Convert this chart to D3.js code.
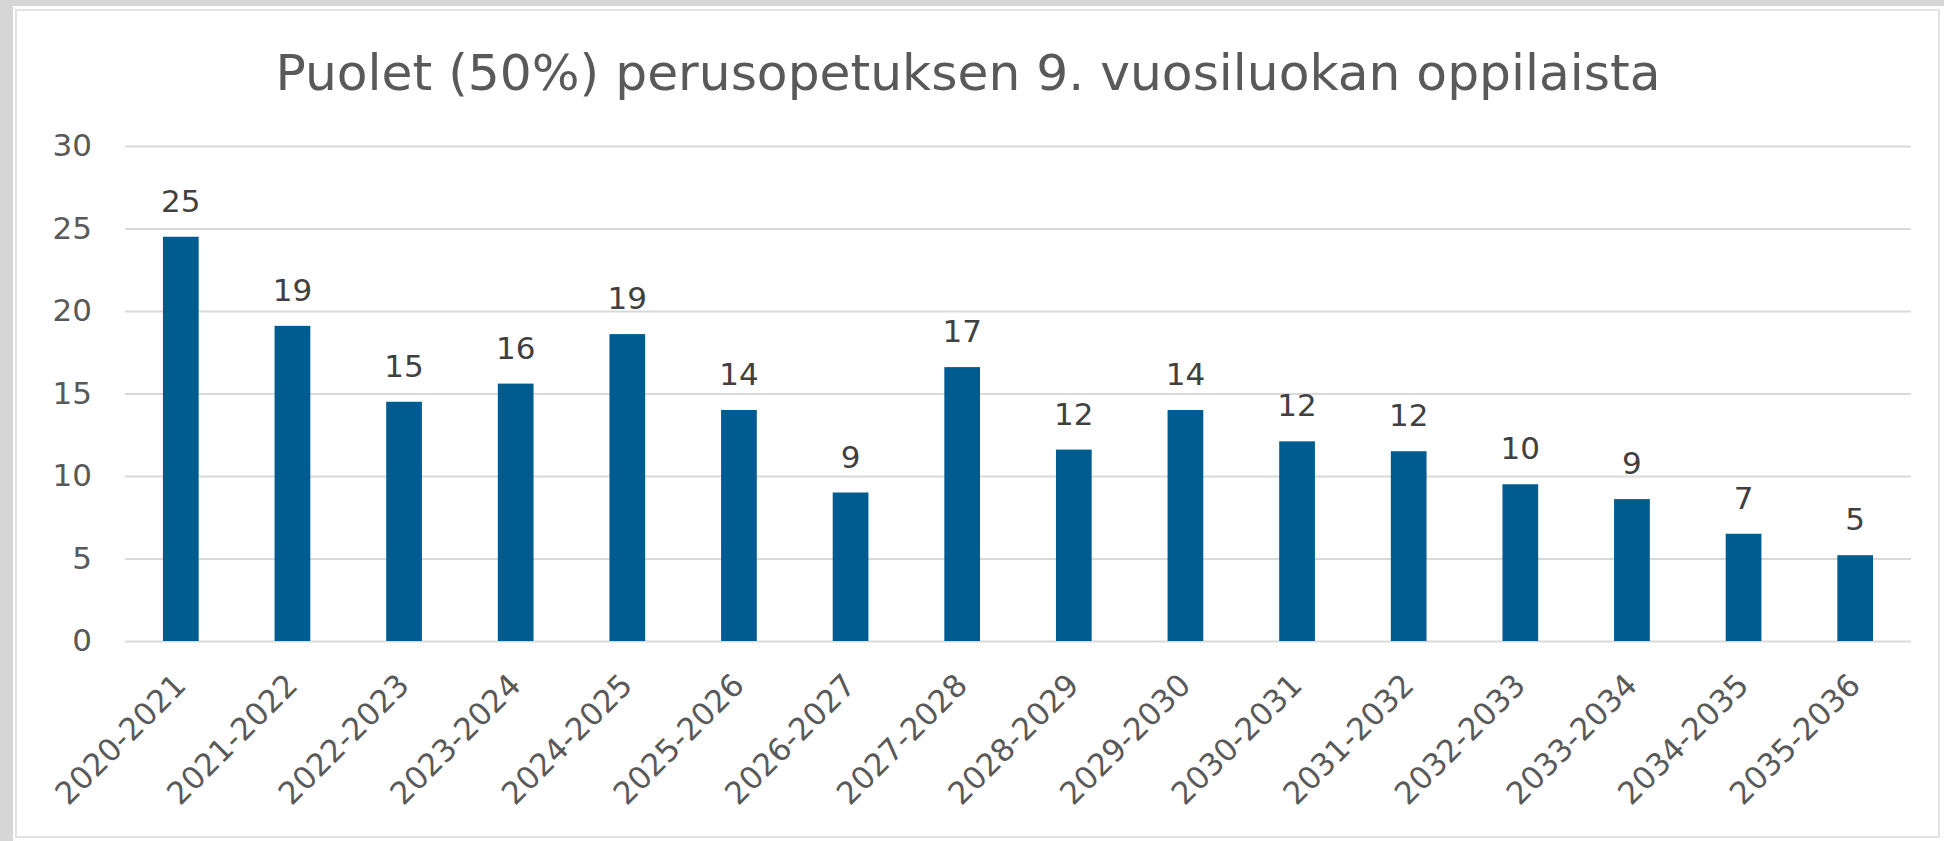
<!DOCTYPE html>
<html>
<head>
<meta charset="utf-8">
<script src="https://cdn.jsdelivr.net/npm/d3@7"></script>
<style>
  body { margin: 0; background: #fff; }
  svg { display: block; font-family: "DejaVu Sans", Verdana, sans-serif; }
</style>
</head>
<body>
<div id="chart"></div>
<script>
'use strict';

var title = 'Puolet (50%) perusopetuksen 9. vuosiluokan oppilaista';
var categories = ['2020-2021', '2021-2022', '2022-2023', '2023-2024', '2024-2025', '2025-2026',
  '2026-2027', '2027-2028', '2028-2029', '2029-2030', '2030-2031', '2031-2032',
  '2032-2033', '2033-2034', '2034-2035', '2035-2036'];
var values = [24.5, 19.1, 14.5, 15.6, 18.6, 14.0, 9.0, 16.6, 11.6, 14.0, 12.1, 11.5, 9.5, 8.6, 6.5, 5.2];
var yTicks = [0, 5, 10, 15, 20, 25, 30];

var W = 1944, H = 841;
var margin = {top: 146, right: 33, bottom: 200, left: 125};
var fontFamily = '"DejaVu Sans", Verdana, sans-serif';

var svg = d3.select('#chart').append('svg')
  .attr('width', W)
  .attr('height', H);

// frame round the chart panel
svg.append('rect').attr('width', W).attr('height', H).attr('fill', '#ffffff');
svg.append('rect').attr('x', 0).attr('y', 0).attr('width', 13).attr('height', H).attr('fill', '#d6d6d6');
svg.append('rect').attr('x', 0).attr('y', 0).attr('width', W).attr('height', 6).attr('fill', '#d6d6d6');
svg.append('rect')
  .attr('x', 16).attr('y', 10)
  .attr('width', 1923).attr('height', 827)
  .attr('fill', '#fff')
  .attr('stroke', '#e2e2e2')
  .attr('stroke-width', 2);

var x = d3.scaleBand()
  .domain(categories)
  .range([margin.left, W - margin.right])
  .paddingInner(0.68)
  .paddingOuter(0.34);

var y = d3.scaleLinear()
  .domain([0, 30])
  .range([H - margin.bottom, margin.top]);

// y axis with gridlines
var yAxis = svg.append('g')
  .attr('transform', 'translate(' + margin.left + ',0)')
  .call(d3.axisLeft(y)
    .tickValues(yTicks)
    .tickSize(-(W - margin.left - margin.right))
    .tickPadding(33));

yAxis.attr('font-family', fontFamily).attr('font-size', null);
yAxis.select('.domain').remove();
yAxis.selectAll('.tick line')
  .attr('stroke', '#d9d9d9')
  .attr('stroke-width', 2);
yAxis.selectAll('.tick text')
  .attr('fill', '#595959')
  .style('font-size', '31px');

// bars
svg.selectAll('rect.bar')
  .data(values)
  .enter()
  .append('rect')
  .attr('class', 'bar')
  .attr('x', function(d, i) { return x(categories[i]); })
  .attr('width', x.bandwidth())
  .attr('y', function(d) { return y(d); })
  .attr('height', function(d) { return y(0) - y(d); })
  .attr('fill', '#005b91');

// value labels
svg.selectAll('text.val')
  .data(values)
  .enter()
  .append('text')
  .attr('class', 'val')
  .attr('x', function(d, i) { return x(categories[i]) + x.bandwidth() / 2; })
  .attr('y', function(d) { return y(d) - 25; })
  .attr('text-anchor', 'middle')
  .attr('fill', '#404040')
  .style('font-size', '31px')
  .text(function(d) { return Math.round(d); });

// x axis labels, rotated
var xAxis = svg.append('g')
  .attr('transform', 'translate(0,' + y(0) + ')')
  .call(d3.axisBottom(x).tickSize(0).tickPadding(0));

xAxis.attr('font-family', fontFamily).attr('font-size', null);
xAxis.select('.domain').remove();
xAxis.selectAll('.tick text')
  .attr('text-anchor', 'end')
  .attr('dy', 0)
  .attr('y', 0)
  .attr('transform', 'translate(7,46) rotate(-45)')
  .attr('fill', '#595959')
  .style('font-size', '31px');

// title, fitted to the width it has in the picture
var t = svg.append('text')
  .attr('x', 968)
  .attr('y', 90)
  .attr('text-anchor', 'middle')
  .attr('fill', '#595959')
  .style('font-size', '46px')
  .text(title);
var tw = t.node().getComputedTextLength();
t.style('font-size', (46 * 1386 / tw).toFixed(1) + 'px');
</script>
</body>
</html>
